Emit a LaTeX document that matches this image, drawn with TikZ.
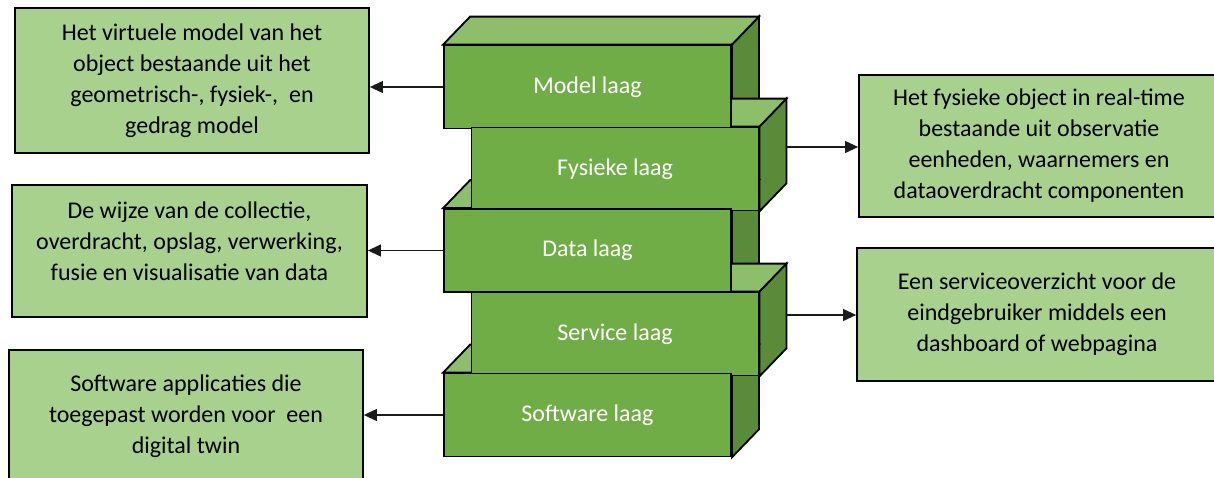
\documentclass[tikz,border=0pt]{standalone}
\usepackage{fontspec}
\setmainfont{Carlito}
\usetikzlibrary{arrows.meta,calc}

\definecolor{gfront}{HTML}{70AD47}
\definecolor{gtop}{HTML}{8DBF6B}
\definecolor{gside}{HTML}{5A8B39}
\definecolor{gbox}{HTML}{A9D18E}
\definecolor{linkcol}{HTML}{1A1A1A}

\pgfdeclarelayer{sidefaces}
\pgfdeclarelayer{topfaces}
\pgfsetlayers{sidefaces,topfaces,main}

\tikzset{
  txt/.style={font=\fontsize{24}{31}\selectfont},
  layerfront/.style={txt, draw=black, line width=1.8pt, fill=gfront, text=white,
    minimum width=287pt, minimum height=83pt, inner sep=0pt},
  topface/.style={draw=black, fill=gtop, line width=1.8pt, line join=miter},
  sideface/.style={draw=black, fill=gside, line width=1.8pt, line join=miter},
  infobox/.style={txt, draw=black, line width=1.8pt, fill=gbox, text=black,
    align=center, inner sep=0pt},
  link/.style={draw=linkcol, line width=1.1pt, -{Triangle[length=13pt,width=12pt]}},
}

% front face of one layer block, with its top and side faces on the layers behind
\newcommand{\layerblock}[3]{%
  \node[layerfront] (#1) at (#2) {#3};
  \begin{pgfonlayer}{topfaces}
    \draw[topface] (#1.north west) -- ++(27,-28) -- ($(#1.north east)+(27,-28)$) -- (#1.north east) -- cycle;
  \end{pgfonlayer}
  \begin{pgfonlayer}{sidefaces}
    \draw[sideface] (#1.north east) -- ++(27,-28) -- ($(#1.south east)+(27,-28)$) -- (#1.south east) -- cycle;
  \end{pgfonlayer}
}

\begin{document}
\begin{tikzpicture}[x=1pt,y=-1pt]
\useasboundingbox (0,0) rectangle (1214,477);
\clip (0,0) rectangle (1214,477);

% description boxes
\node[infobox, minimum width=354pt, minimum height=145pt] (dmodel) at (192,80.5)
  {Het virtuele model van het\\object bestaande uit het\\geometrisch-, fysiek-,~ en\\gedrag model};
\node[infobox, minimum width=355pt, minimum height=132pt] (ddata) at (189.5,251)
  {\raisebox{0pt}[\height][\dimexpr\depth+16pt\relax]{\begin{tabular}{@{}c@{}}De wijze van de collectie,\\overdracht, opslag, verwerking,\\fusie en visualisatie van data\end{tabular}}};
\node[infobox, minimum width=354pt, minimum height=132pt] (dsoft) at (186,416)
  {Software applicaties die\\toegepast worden voor~ een\\digital twin};
\node[infobox, minimum width=360pt, minimum height=142pt] (dfys) at (1039,146)
  {Het fysieke object in real-time\\bestaande uit observatie\\eenheden, waarnemers en\\dataoverdracht componenten};
\node[infobox, minimum width=360pt, minimum height=133pt] (dserv) at (1037,314.5)
  {Een serviceoverzicht voor de\\eindgebruiker middels een\\dashboard of webpagina};

% stacked layers
\layerblock{model}{587.5,87}{Model laag}
\layerblock{fys}{615,169}{Fysieke laag}
\layerblock{data}{587.5,250.5}{Data laag}
\layerblock{serv}{615,334}{Service laag}
\layerblock{soft}{587.5,415}{Software laag}

% connectors
\coordinate (fysout) at ($(fys.east)+(27,-22)$);
\coordinate (servout) at ($(serv.east)+(27,-19)$);
\draw[link] (model.west) -- (model.west -| dmodel.east);
\draw[link] (data.west) -- (data.west -| ddata.east);
\draw[link] (soft.west) -- (soft.west -| dsoft.east);
\draw[link] (fysout) -- (fysout -| dfys.west);
\draw[link] (servout) -- (servout -| dserv.west);
\end{tikzpicture}
\end{document}
